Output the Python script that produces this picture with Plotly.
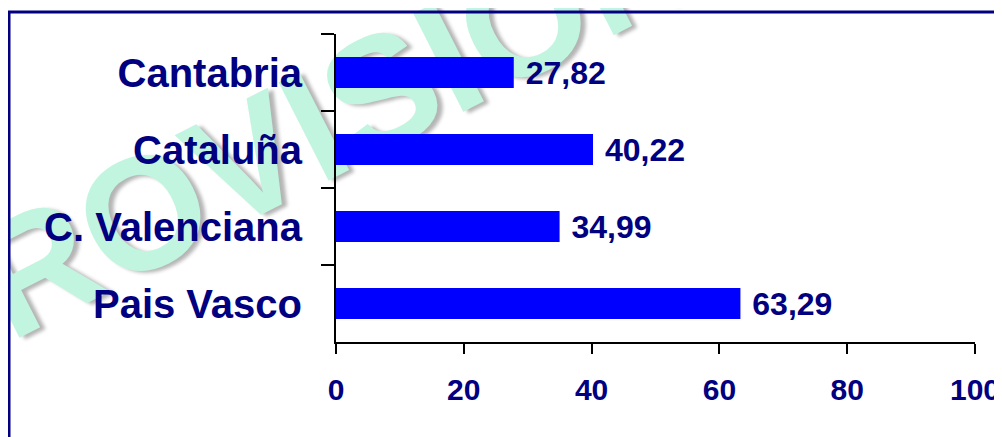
import plotly.graph_objects as go

regions = ["Cantabria", "Cataluña", "C. Valenciana", "Pais Vasco"]
values = [27.82, 40.22, 34.99, 63.29]
x_ticks = [0, 20, 40, 60, 80, 100]

NAVY = "#000080"
FONT = "Arial, Liberation Sans, sans-serif"

# the page body has an 8px margin, so the figure starts at (8, 8)
OFF = 8
W, H = 1002 - OFF, 437 - OFF
L, R, T, B = 336 - OFF, 27, 34 - OFF, 95
PW, PH = W - L - R, H - T - B


def px_to_paper(px, py):
    # screen pixels -> paper coordinates
    return (px - OFF - L) / PW, (H - B - (py - OFF)) / PH


labels = [" " + f"{v:.2f}".replace(".", ",") for v in values]

fig = go.Figure(
    go.Bar(
        x=values,
        y=regions,
        orientation="h",
        width=0.4,
        marker=dict(color="#0000ff", line=dict(width=0)),
        text=labels,
        textposition="outside",
        constraintext="none",
        cliponaxis=False,
        textfont=dict(family=FONT, size=32, color=NAVY, weight="bold"),
    )
)

# watermark, drawn under everything
wx, wy = px_to_paper(374, 78)
fig.add_shape(
    type="rect", xref="paper", yref="paper",
    x0=wx - 0.001, x1=wx + 0.001, y0=wy - 0.001, y1=wy + 0.001,
    line=dict(width=0), fillcolor="rgba(0,0,0,0)", layer="below",
    label=dict(
        text="PROVISIONAL", textangle=-27, textposition="middle center",
        font=dict(family=FONT, size=160, color="#c2f5e0", weight="bold",
                  shadow="4px 4px 4px #b5b5b5"),
    ),
)

# outer frame
fx0, fy0 = px_to_paper(9, 12)
fx1, fy1 = px_to_paper(1030, 470)
fig.add_shape(
    type="rect", xref="paper", yref="paper",
    x0=fx0, y0=fy0, x1=fx1, y1=fy1,
    line=dict(color=NAVY, width=3), layer="below",
)

fig.update_xaxes(
    range=[0, 100],
    tickvals=x_ticks,
    automargin=False,
    showgrid=False, zeroline=False,
    showline=True, linecolor="black", linewidth=2,
    ticks="outside", ticklen=10, tickwidth=2, tickcolor="black",
    ticklabelstandoff=10,
    tickfont=dict(family=FONT, size=30, color=NAVY, weight="bold"),
)
fig.update_yaxes(
    categoryorder="array", categoryarray=regions, autorange="reversed",
    automargin=False,
    showgrid=False, zeroline=False,
    showline=True, linecolor="black", linewidth=2,
    ticks="outside", tickson="boundaries", ticklen=13, tickwidth=2, tickcolor="black",
    ticklabelstandoff=24,
    tickfont=dict(family=FONT, size=40, color=NAVY, weight="bold"),
)

fig.update_layout(
    width=W, height=H,
    margin=dict(l=L, r=R, t=T, b=B),
    paper_bgcolor="white", plot_bgcolor="rgba(0,0,0,0)",
    showlegend=False,
    bargap=0.6,
)

fig.write_html("out.html")
